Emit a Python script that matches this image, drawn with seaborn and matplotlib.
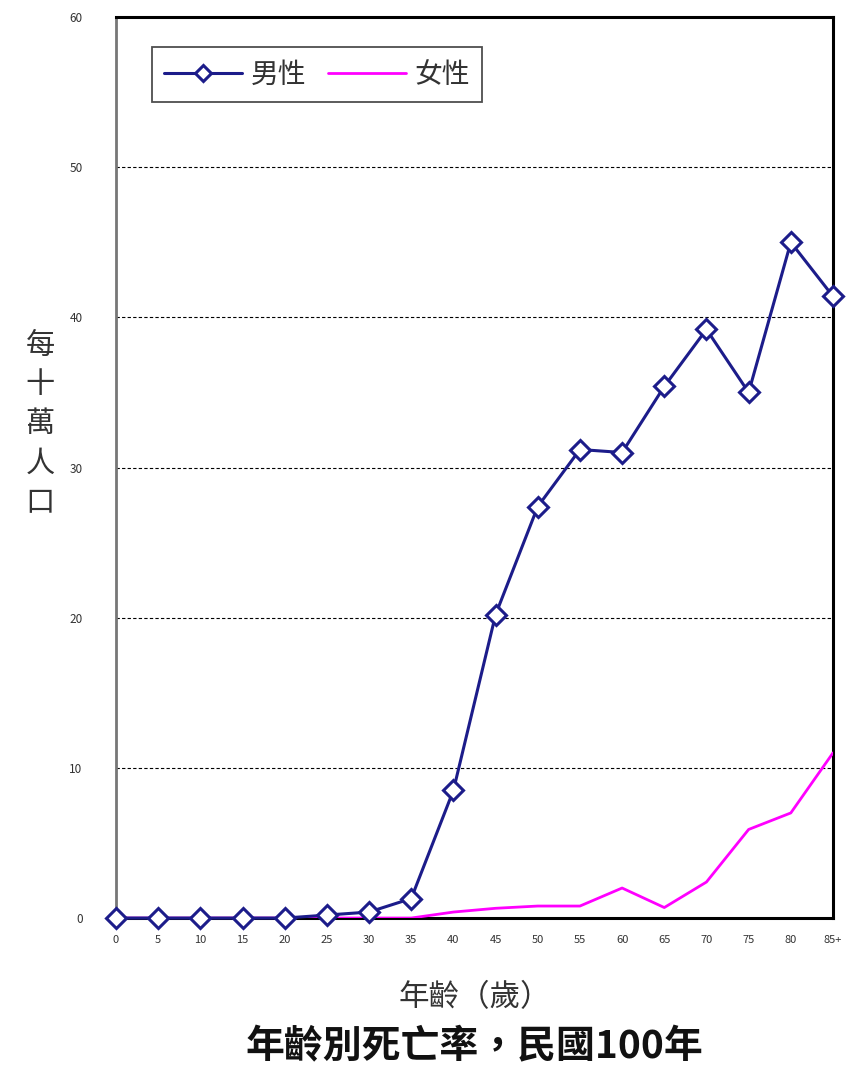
import matplotlib
matplotlib.use("Agg")
import matplotlib.pyplot as plt
import seaborn as sns
import pandas as pd

sns.set_theme(style="white")
plt.rcParams['font.family'] = ['Noto Sans CJK TC', 'DejaVu Sans']

age_labels = ["0", "5", "10", "15", "20", "25", "30", "35", "40", "45",
              "50", "55", "60", "65", "70", "75", "80", "85+"]
male = [0.0, 0.0, 0.0, 0.0, 0.0, 0.2, 0.4, 1.3, 8.5, 20.2,
        27.4, 31.2, 31.0, 35.4, 39.2, 35.0, 45.0, 41.4]
female = [0.0, 0.0, 0.0, 0.0, 0.0, 0.0, 0.0, 0.0, 0.4, 0.65,
          0.8, 0.8, 2.0, 0.7, 2.4, 5.9, 7.0, 11.0]

pos = list(range(len(age_labels)))
df_m = pd.DataFrame({"pos": pos, "rate": male})
df_f = pd.DataFrame({"pos": pos, "rate": female})

fig = plt.figure(figsize=(8.54, 10.69), dpi=100)
ax = fig.add_axes([0.1358, 0.1412, 0.9754 - 0.1358, 0.9841 - 0.1412])

navy = "#1c1c8a"
pink = "#ff00ff"

sns.lineplot(data=df_f, x="pos", y="rate", ax=ax, color=pink, linewidth=2.0,
             label="女性", zorder=3)
sns.lineplot(data=df_m, x="pos", y="rate", ax=ax, color=navy, linewidth=2.2,
             marker="D", markersize=10, markerfacecolor="white",
             markeredgecolor=navy, markeredgewidth=2.2, label="男性",
             zorder=4, clip_on=False)

ax.set_xlim(0, len(age_labels) - 1)
ax.set_ylim(0, 60)
ax.set_xticks(pos)
ax.set_xticklabels(age_labels, fontsize=8, color="#333333")
ax.set_yticks(range(0, 61, 10))
ax.set_yticklabels([str(v) for v in range(0, 61, 10)], fontsize=8.5, color="#333333")
ax.tick_params(axis="x", length=0, pad=12)
ax.tick_params(axis="y", length=0, pad=24)

for v in range(10, 60, 10):
    ax.axhline(v, color="black", linestyle=(0, (3, 2)), linewidth=0.8, zorder=1)

for side in ["top", "right", "bottom"]:
    ax.spines[side].set_color("black")
    ax.spines[side].set_linewidth(2.2)
ax.spines["left"].set_color("#777777")
ax.spines["left"].set_linewidth(2.0)

ax.set_xlabel("")
ax.set_ylabel("每\n十\n萬\n人\n口", fontsize=21, color="#333333", rotation=0,
              linespacing=1.4, va="center", ha="center")
ax.yaxis.set_label_coords(-0.106, 0.548)

handles, labels = ax.get_legend_handles_labels()
order = [labels.index("男性"), labels.index("女性")]
leg = ax.legend([handles[i] for i in order], [labels[i] for i in order],
                ncol=2, loc="upper left", bbox_to_anchor=(0.050, 0.9667),
                frameon=True, fancybox=False, fontsize=20, handlelength=2.8,
                columnspacing=0.8, borderpad=0.45, handletextpad=0.3,
                borderaxespad=0)
leg.get_frame().set_edgecolor("#222222")
leg.get_frame().set_linewidth(1.3)
for t in leg.get_texts():
    t.set_color("#333333")
for h in leg.legend_handles:
    h.set_markersize(8)

fig.text(0.556, 1 - 998 / 1069, "年齡（歲）", fontsize=22, color="#333333",
         ha="center", va="center")
fig.text(0.556, 1 - 1047 / 1069, "年齡別死亡率，民國100年", fontsize=28,
         fontweight="bold", ha="center", va="center", color="#111111")

fig.savefig("out.png", dpi=100, facecolor="white")
